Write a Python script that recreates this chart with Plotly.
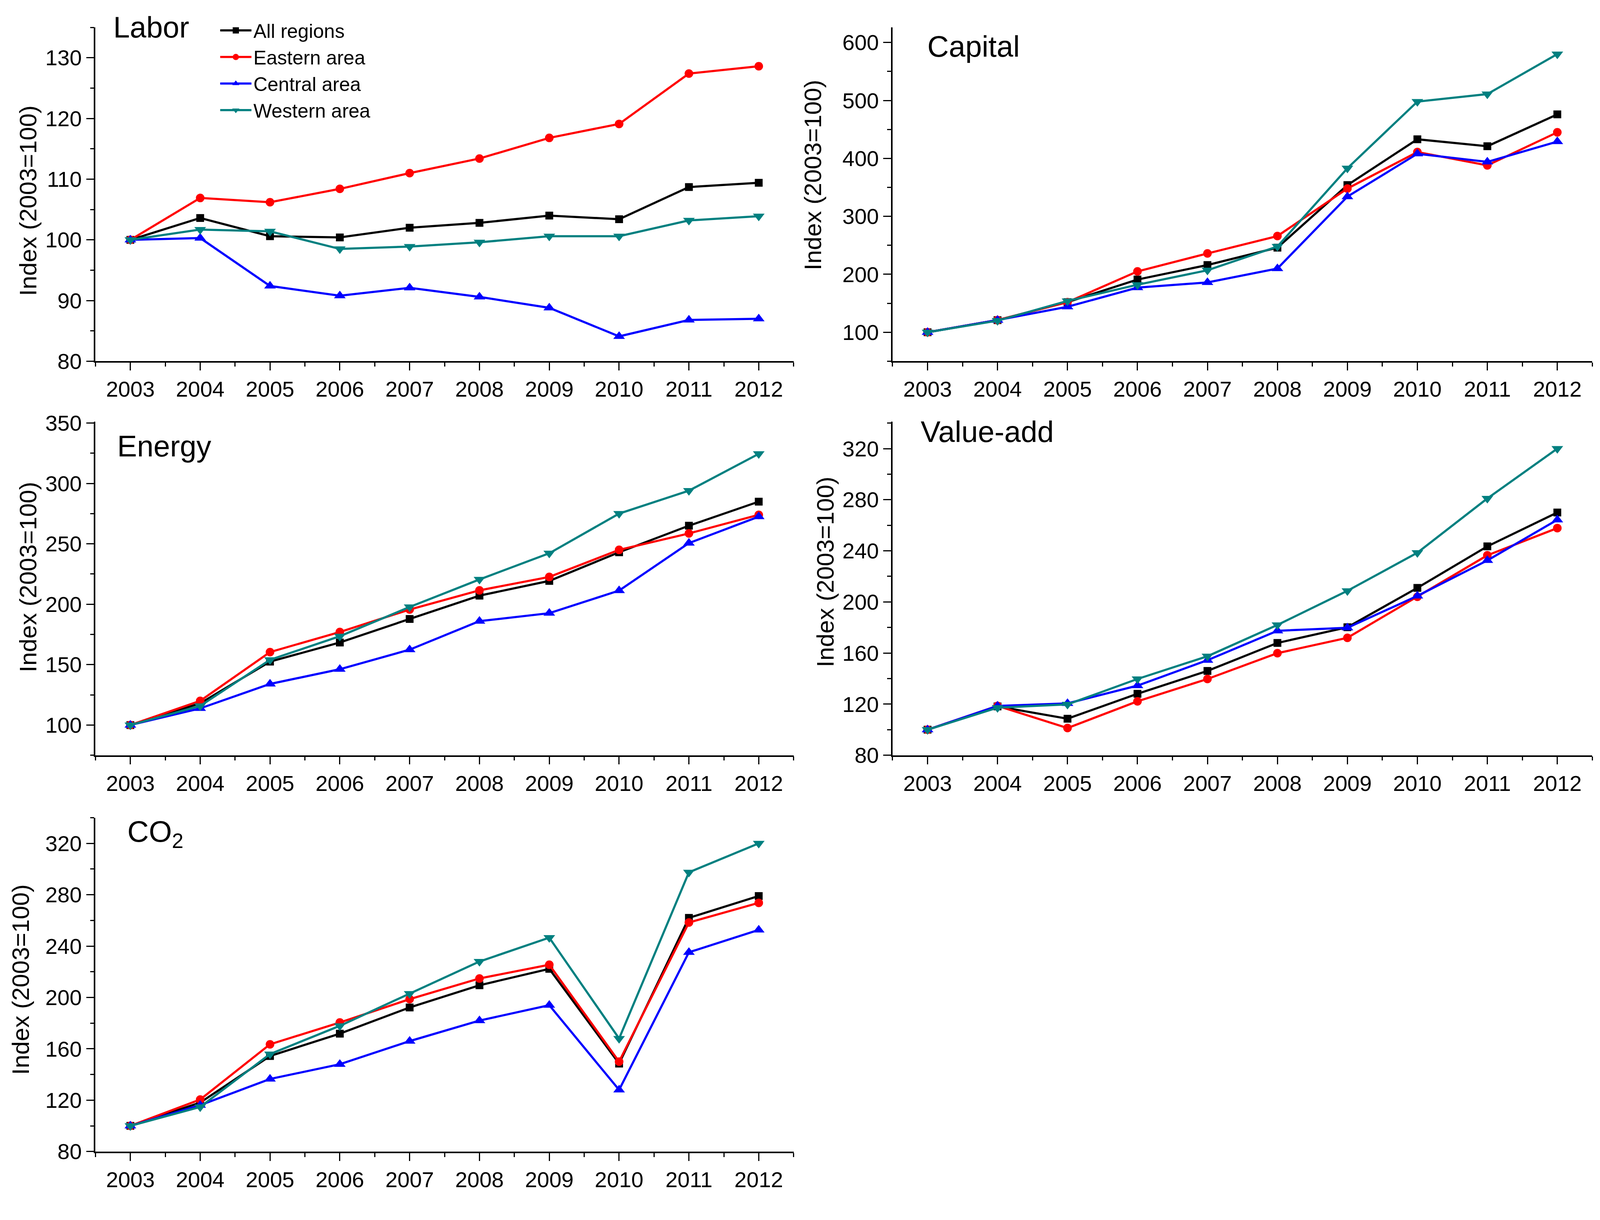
import plotly.graph_objects as go

W, H = 4157, 3122
DY = -24  # vertical correction (px)

years = [2003, 2004, 2005, 2006, 2007, 2008, 2009, 2010, 2011, 2012]
series_names = ["All regions", "Eastern area", "Central area", "Western area"]

# Labor
labor_all = [100, 103.6, 100.6, 100.4, 102.0, 102.8, 104.0, 103.4, 108.7, 109.4]
labor_east = [100, 106.9, 106.2, 108.4, 111.0, 113.4, 116.8, 119.1, 127.4, 128.6]
labor_central = [100, 100.3, 92.4, 90.8, 92.1, 90.6, 88.8, 84.1, 86.8, 87.0]
labor_west = [100, 101.7, 101.4, 98.5, 98.9, 99.6, 100.6, 100.6, 103.2, 103.9]

# Capital
capital_all = [100, 121, 152, 191, 216, 246, 354, 433, 421, 476]
capital_east = [100, 121, 152, 205, 236, 266, 348, 411, 388, 445]
capital_central = [100, 121, 144, 177, 186, 210, 334, 408, 394, 429]
capital_west = [100, 120, 154, 182, 207, 248, 383, 498, 511, 580]

# Energy
energy_all = [100, 118, 152.5, 168.3, 187.8, 207.1, 219.3, 243.0, 265.0, 284.9]
energy_east = [100, 120.0, 160.4, 177.0, 195.6, 211.5, 222.6, 245.0, 258.6, 274.0]
energy_central = [100, 113.8, 134.0, 146.2, 162.4, 186.0, 192.6, 211.3, 250.6, 272.5]
energy_west = [100, 115.8, 154.0, 173.5, 197.7, 220.5, 242.2, 275.0, 294.0, 324.5]

# Value-add
valueadd_all = [100, 118.2, 108.6, 128.1, 146.0, 167.9, 180.2, 211.0, 243.5, 270.0]
valueadd_east = [100, 118.6, 101.3, 122.2, 139.7, 159.9, 171.9, 204.0, 236.5, 257.8]
valueadd_central = [100, 118.6, 120.6, 134.5, 154.4, 177.4, 179.8, 204.7, 232.5, 264.3]
valueadd_west = [100, 117.2, 119.8, 139.7, 157.5, 182.0, 208.7, 238.5, 281.0, 320.0]

# CO2
co2_all = [100, 118.1, 154.4, 171.8, 192.2, 209.5, 222.3, 148.5, 262.0, 279.0]
co2_east = [100, 120.5, 163.5, 180.5, 198.7, 214.8, 225.5, 150.0, 258.4, 273.7]
co2_central = [100, 116.1, 136.5, 148.0, 166.0, 182.0, 194.0, 128.0, 235.2, 252.6]
co2_west = [100, 114.7, 155.9, 177.9, 203.0, 228.0, 246.6, 168.0, 297.5, 320.0]

panels = [
    ("Labor", [labor_all, labor_east, labor_central, labor_west]),
    ("Capital", [capital_all, capital_east, capital_central, capital_west]),
    ("Energy", [energy_all, energy_east, energy_central, energy_west]),
    ("Value-add", [valueadd_all, valueadd_east, valueadd_central, valueadd_west]),
    ("CO<sub>2</sub>", [co2_all, co2_east, co2_central, co2_west]),
]

colors = ["#000000", "#FF0000", "#0000FF", "#008080"]
symbols = ["square", "circle", "triangle-up", "triangle-down"]
msizes = [20, 22, 26, 26]


def py(px):
    return 1 - (px + DY) / H


left_x = (248, 2062)
right_x = (2319, 4137)
row1 = (67, 938)
row2 = (1096, 1966)
row3 = (2129, 3000)
axcfg = [
    (left_x, row1, [80, 135], 10, 5),
    (right_x, row1, [50, 626], 100, 50),
    (left_x, row2, [75, 351], 50, 25),
    (right_x, row2, [80, 341], 40, 20),
    (left_x, row3, [80, 340], 40, 20),
]

FONT = "Liberation Sans, Arial, sans-serif"
fig = go.Figure()

for i, (pname, data) in enumerate(panels):
    n = i + 1
    xa = "x" if n == 1 else f"x{n}"
    ya = "y" if n == 1 else f"y{n}"
    for j, vals in enumerate(data):
        fig.add_trace(go.Scatter(
            x=years, y=vals, xaxis=xa, yaxis=ya,
            mode="lines+markers", name=series_names[j],
            legendgroup=series_names[j], showlegend=(n == 1),
            line=dict(color=colors[j], width=5.5),
            marker=dict(symbol=symbols[j], size=msizes[j], color=colors[j]),
        ))

layout = dict(
    width=W, height=H,
    margin=dict(l=0, r=0, t=0, b=0),
    paper_bgcolor="white", plot_bgcolor="white",
    font=dict(family=FONT, color="black", size=56),
    legend=dict(
        x=567 / W, y=py(35), xanchor="left", yanchor="top",
        font=dict(family=FONT, size=50, color="black"),
        bgcolor="rgba(0,0,0,0)", itemwidth=80, tracegroupgap=0,
        itemsizing="trace",
    ),
    annotations=[],
)

for i, (xd, yd, yr, dt, mdt) in enumerate(axcfg):
    n = i + 1
    xk = "xaxis" if n == 1 else f"xaxis{n}"
    yk = "yaxis" if n == 1 else f"yaxis{n}"
    xanchor_name = "y" if n == 1 else f"y{n}"
    yanchor_name = "x" if n == 1 else f"x{n}"
    layout[xk] = dict(
        domain=[xd[0] / W, xd[1] / W], anchor=xanchor_name,
        range=[2002.5, 2012.5], tickvals=years, ticktext=[str(y) for y in years],
        showgrid=False, zeroline=False, showline=True, linecolor="black", linewidth=3.5,
        ticks="outside", ticklen=20, tickwidth=3, tickcolor="black",
        tickfont=dict(family=FONT, size=56, color="black"),
        minor=dict(dtick=0.5, tick0=2002.5, ticks="outside", ticklen=10, tickwidth=3, tickcolor="black"),
        fixedrange=True,
    )
    layout[yk] = dict(
        domain=[py(yd[1]), py(yd[0])], anchor=yanchor_name,
        range=yr, dtick=dt, tick0=0,
        showgrid=False, zeroline=False, showline=True, linecolor="black", linewidth=3.5,
        ticks="outside", ticklen=20, tickwidth=3, tickcolor="black",
        tickfont=dict(family=FONT, size=56, color="black"),
        minor=dict(dtick=mdt, tick0=0, ticks="outside", ticklen=10, tickwidth=3, tickcolor="black"),
        fixedrange=True,
    )

ytitle_pos = [(73, 519), (2112, 452), (73, 1501), (2144, 1488), (53, 2551)]
for cx, cy in ytitle_pos:
    layout["annotations"].append(dict(
        text="Index (2003=100)", xref="paper", yref="paper",
        x=cx / W, y=py(cy), xanchor="center", yanchor="middle",
        textangle=-90, showarrow=False,
        font=dict(family=FONT, size=62, color="black"),
    ))

label_pos = [(292, 66), (2407, 116), (302, 1159), (2390, 1122), (329, 2170)]
for (pname, _), (lx, ly) in zip(panels, label_pos):
    layout["annotations"].append(dict(
        text=pname, xref="paper", yref="paper",
        x=lx / W, y=py(ly), xanchor="left", yanchor="middle",
        showarrow=False, font=dict(family=FONT, size=76, color="black"),
    ))

fig.update_layout(**layout)

post = (
    "document.documentElement.style.margin='0';"
    "document.body.style.margin='0';document.body.style.padding='0';"
    "document.body.style.overflow='hidden';"
    "var gd=document.getElementById('{plot_id}');"
    "Plotly.relayout(gd,{width:window.innerWidth,height:window.innerHeight});"
)
fig.write_html("out.html", config={"displayModeBar": False}, post_script=post)
